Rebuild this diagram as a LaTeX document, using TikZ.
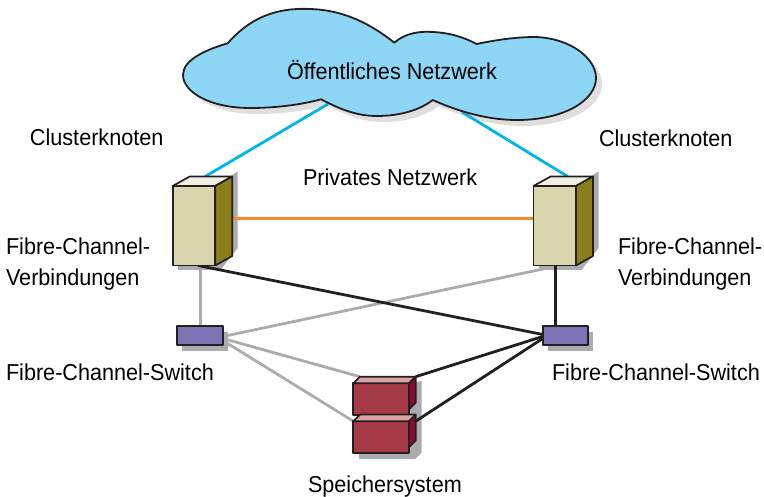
\documentclass[tikz,border=0pt]{standalone}
\usepackage{fontspec}
\setmainfont[FakeStretch=0.94]{Liberation Sans}
\pgfdeclarelayer{shadow}
\pgfdeclarelayer{lines}
\pgfsetlayers{shadow,lines,main}
\definecolor{cloudblue}{HTML}{8DD6F6}
\definecolor{linecyan}{HTML}{00B5EC}
\definecolor{lineorange}{HTML}{F58A2B}
\definecolor{linegray}{HTML}{ABACAF}
\definecolor{lineblack}{HTML}{231F20}
\definecolor{shadowgray}{HTML}{ABACB0}
\definecolor{cloudshadow}{HTML}{DEDEDF}
\definecolor{srvfront}{HTML}{D9D6AE}
\definecolor{srvtop}{HTML}{F1F0E2}
\definecolor{srvside}{HTML}{8A7F1B}
\definecolor{swfill}{HTML}{7C74B6}
\definecolor{stfront}{HTML}{A63A46}
\definecolor{sttop}{HTML}{DDA3A3}
\definecolor{stside}{HTML}{8C0A2E}
\tikzset{
  x=1pt,y=-1pt,
  outline/.style={draw=lineblack,line width=1.7pt,line join=round},
  box/.style={outline,rectangle,inner sep=0pt,outer sep=0pt,anchor=north west},
  server/.style={box,fill=srvfront,minimum width=42.5pt,minimum height=79.5pt},
  switchbox/.style={box,fill=swfill,minimum width=45.5pt,minimum height=19pt},
  store/.style={box,fill=stfront,minimum width=55.7pt,minimum height=32pt},
  conn/.style={line width=2.8pt},
  straight/.style={line width=3.05pt},
  lbl/.style={inner sep=0pt,outer sep=0pt,align=left,font=\fontsize{23}{30.5}\selectfont},
}
\newcommand{\cloudshape}{(227.7,43.3) .. controls (255,12) and (285,8) .. (310,9)
  .. controls (345,10) and (372,25) .. (394.3,42.7)
  .. controls (405,33) and (420,31) .. (433,32)
  .. controls (452,33) and (465,38) .. (476.7,44)
  .. controls (500,39) and (520,37) .. (535,37)
  .. controls (570,38) and (596,58) .. (596,78)
  .. controls (596,100) and (565,120) .. (517,120)
  .. controls (485,120) and (455,110) .. (432.7,100)
  .. controls (420,110) and (400,116) .. (377,116)
  .. controls (355,116) and (338,108) .. (321,99.3)
  .. controls (300,105) and (275,108) .. (250,108)
  .. controls (210,108) and (183,92) .. (183,75)
  .. controls (183,60) and (205,50) .. (227.7,43.3) -- cycle}
\begin{document}
\begin{tikzpicture}
\useasboundingbox (0,0) rectangle (764,497);
% cloud
\begin{pgfonlayer}{shadow}
  \fill[cloudshadow,shift={(6,6)}] \cloudshape;
\end{pgfonlayer}
\draw[outline,fill=cloudblue,line width=1.8pt] \cloudshape;
\node[lbl] (cloudlabel) at (392,70) {Öffentliches Netzwerk};
\coordinate (cloudL) at (328,104);
\coordinate (cloudR) at (462,112);
% servers
\node[server] (srvL) at (172.7,186) {};
\node[server] (srvR) at (533.5,186) {};
\begin{pgfonlayer}{shadow}
  \foreach \n in {srvL,srvR} {
    \fill[shadowgray] ([xshift=5pt,yshift=-5pt]\n.south west) rectangle ([xshift=5pt,yshift=-5pt]\n.north east);
    \fill[shadowgray] ([xshift=22.5pt,yshift=14.5pt]\n.north east) -- ++(0,76.5) -- ([xshift=5pt,yshift=-5pt]\n.south east) -- (\n.north east) -- cycle;
  }
\end{pgfonlayer}
\foreach \n in {srvL,srvR} {
  \draw[outline,fill=srvtop] (\n.north west) -- ++(17,-9.5) -- ++(42.5,0) -- (\n.north east) -- cycle;
  \draw[outline,fill=srvside] (\n.north east) -- ++(17,-9.5) -- ++(0,79.5) -- (\n.south east) -- cycle;
}
% switches
\node[switchbox] (swL) at (177.3,326) {};
\node[switchbox] (swR) at (542.7,326) {};
\begin{pgfonlayer}{shadow}
  \foreach \n in {swL,swR}
    \fill[shadowgray] ([xshift=5pt,yshift=-6pt]\n.north west) rectangle ([xshift=5pt,yshift=-6pt]\n.south east);
\end{pgfonlayer}
% storage
\node[store] (stA) at (353.3,383.3) {};
\node[store] (stB) at (353.3,421.2) {};
\begin{pgfonlayer}{shadow}
  \fill[shadowgray] (409,383) -- (421.5,381) -- (421.5,453) -- (415,459) -- (359,459) -- (359,453) -- (409,453) -- cycle;
\end{pgfonlayer}
\foreach \n in {stA,stB} {
  \draw[outline,fill=sttop] (\n.north west) -- ++(6.7,-6.6) -- ++(55.7,0) -- (\n.north east) -- cycle;
  \draw[outline,fill=stside] (\n.north east) -- ++(6.7,-6.6) -- ++(0,26) -- ++(-6.7,6.6) -- cycle;
}
% connectors
\begin{pgfonlayer}{lines}
  \draw[conn,linecyan] (cloudL) -- ([xshift=-10pt,yshift=9.5pt]srvL.north east);
  \draw[conn,linecyan] (cloudR) -- ([xshift=13pt,yshift=9.5pt]srvR.north);
  \draw[straight,lineorange] ([xshift=17pt,yshift=7.7pt]srvL.east) -- ([yshift=7.7pt]srvR.west);
  \draw[straight,linegray] (swL.north) -- (swL.north |- srvL.south);
  \draw[conn,linegray] ([yshift=-1pt]swL.east) -- ([xshift=5pt]srvR.south);
  \draw[conn,linegray] ([yshift=-3pt]swL.east) -- ([xshift=6.7pt,yshift=6.6pt]stA.north west);
  \draw[conn,linegray] ([yshift=-5pt]swL.east) -- (stB.north west);
  \draw[conn,lineblack] ([xshift=4pt]srvL.south) -- ([yshift=1pt]swR.west);
  \draw[straight,lineblack] ([xshift=-9.5pt]swR.north) -- ([xshift=-9.5pt]swR.north |- srvR.south);
  \draw[conn,lineblack] ([yshift=-1pt]swR.west) -- ([xshift=6.7pt,yshift=6.6pt]stA.north east);
  \draw[conn,lineblack] ([yshift=-3pt]swR.west) -- ([xshift=6.7pt]stB.north east);
\end{pgfonlayer}
% labels
\node[lbl,anchor=base west] (lblCL) at (30,146) {Clusterknoten};
\node[lbl,anchor=base west] (lblCR) at (599,147) {Clusterknoten};
\node[lbl,anchor=base west] (lblPN) at (303,186) {Privates Netzwerk};
\node[lbl,anchor=north west] (lblFL) at (6,238) {Fibre-Channel-\\Verbindungen};
\node[lbl,anchor=north west] (lblFR) at (618,238) {Fibre-Channel-\\Verbindungen};
\node[lbl,anchor=base west] (lblSL) at (6,381) {Fibre-Channel-Switch};
\node[lbl,anchor=base west] (lblSR) at (552,381) {Fibre-Channel-Switch};
\node[lbl,anchor=base west] (lblST) at (308,492) {Speichersystem};
\end{tikzpicture}
\end{document}
